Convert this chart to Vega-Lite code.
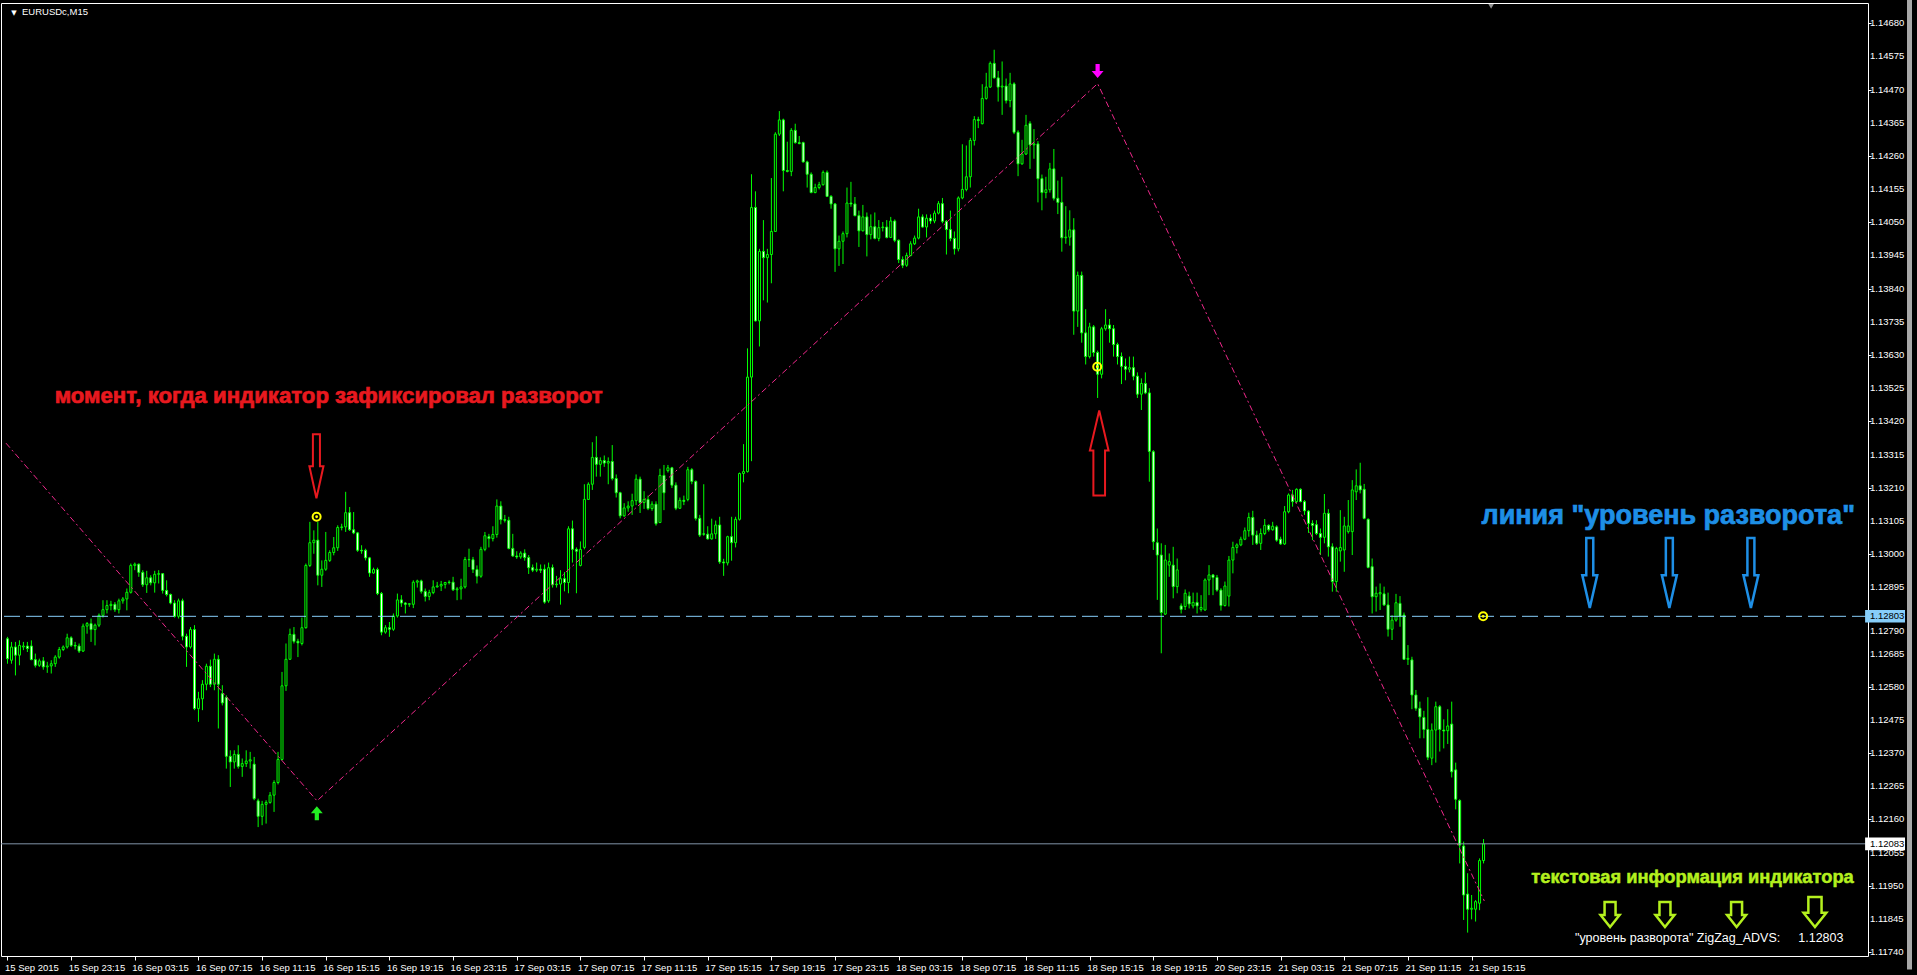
{
"$schema": "https://vega.github.io/schema/vega-lite/v6.json",
"width": 1867, "height": 953,
"autosize": {"type": "none"},
"padding": {"left": 1, "top": 3, "right": 49, "bottom": 19},
"background": "#000000",
"config": {"view": {"stroke": "#ffffff", "strokeWidth": 1, "fill": "#000000"},
 "axis": {"labelOverlap": false, "labelSeparation": 0}},
"datasets": {
"yticks": [
{"v":1.1174},{"v":1.11845},{"v":1.1195},{"v":1.12055},{"v":1.1216},{"v":1.12265},{"v":1.1237},{"v":1.12475},{"v":1.1258},{"v":1.12685},
{"v":1.12895},{"v":1.13},{"v":1.13105},{"v":1.1321},{"v":1.13315},{"v":1.1342},{"v":1.13525},{"v":1.1363},{"v":1.13735},
{"v":1.1384},{"v":1.13945},{"v":1.1405},{"v":1.14155},{"v":1.1426},{"v":1.14365},{"v":1.1447},{"v":1.14575},{"v":1.1468}
],
"candles": [
{"i":0,"o":1.12732,"h":1.12738,"l":1.12653,"c":1.12669},
{"i":1,"o":1.12664,"h":1.12722,"l":1.12653,"c":1.12706},
{"i":2,"o":1.12706,"h":1.12722,"l":1.12616,"c":1.12680},
{"i":3,"o":1.12680,"h":1.12727,"l":1.12648,"c":1.12711},
{"i":4,"o":1.12706,"h":1.12722,"l":1.12696,"c":1.12709},
{"i":5,"o":1.12709,"h":1.12722,"l":1.12690,"c":1.12701},
{"i":6,"o":1.12709,"h":1.12727,"l":1.12664,"c":1.12666},
{"i":7,"o":1.12666,"h":1.12685,"l":1.12641,"c":1.12648},
{"i":8,"o":1.12648,"h":1.12669,"l":1.12643,"c":1.12662},
{"i":9,"o":1.12662,"h":1.12674,"l":1.12634,"c":1.12643},
{"i":10,"o":1.12643,"h":1.12659,"l":1.12624,"c":1.12646},
{"i":11,"o":1.12646,"h":1.12664,"l":1.12622,"c":1.12653},
{"i":12,"o":1.12653,"h":1.12680,"l":1.12643,"c":1.12674},
{"i":13,"o":1.12674,"h":1.12706,"l":1.12669,"c":1.12698},
{"i":14,"o":1.12698,"h":1.12711,"l":1.12693,"c":1.12706},
{"i":15,"o":1.12706,"h":1.12748,"l":1.12701,"c":1.12735},
{"i":16,"o":1.12735,"h":1.12740,"l":1.12706,"c":1.12711},
{"i":17,"o":1.12711,"h":1.12722,"l":1.12698,"c":1.12709},
{"i":18,"o":1.12709,"h":1.12717,"l":1.12687,"c":1.12693},
{"i":19,"o":1.12693,"h":1.12780,"l":1.12690,"c":1.12772},
{"i":20,"o":1.12772,"h":1.12785,"l":1.12748,"c":1.12780},
{"i":21,"o":1.12780,"h":1.12796,"l":1.12722,"c":1.12761},
{"i":22,"o":1.12761,"h":1.12780,"l":1.12711,"c":1.12775},
{"i":23,"o":1.12775,"h":1.12812,"l":1.12769,"c":1.12806},
{"i":24,"o":1.12806,"h":1.12854,"l":1.12799,"c":1.12824},
{"i":25,"o":1.12824,"h":1.12854,"l":1.12812,"c":1.12837},
{"i":26,"o":1.12837,"h":1.12852,"l":1.12822,"c":1.12841},
{"i":27,"o":1.12841,"h":1.12848,"l":1.12817,"c":1.12824},
{"i":28,"o":1.12824,"h":1.12859,"l":1.12812,"c":1.12852},
{"i":29,"o":1.12852,"h":1.12864,"l":1.12843,"c":1.12858},
{"i":30,"o":1.12858,"h":1.12891,"l":1.12822,"c":1.12879},
{"i":31,"o":1.12879,"h":1.12970,"l":1.12875,"c":1.12964},
{"i":32,"o":1.12964,"h":1.12973,"l":1.12949,"c":1.12968},
{"i":33,"o":1.12968,"h":1.12970,"l":1.12928,"c":1.12942},
{"i":34,"o":1.12942,"h":1.12949,"l":1.12896,"c":1.12903},
{"i":35,"o":1.12903,"h":1.12947,"l":1.12877,"c":1.12925},
{"i":36,"o":1.12925,"h":1.12933,"l":1.12901,"c":1.12909},
{"i":37,"o":1.12909,"h":1.12947,"l":1.12878,"c":1.12936},
{"i":38,"o":1.12936,"h":1.12949,"l":1.12907,"c":1.12938},
{"i":39,"o":1.12938,"h":1.12940,"l":1.12875,"c":1.12885},
{"i":40,"o":1.12885,"h":1.12917,"l":1.12866,"c":1.12872},
{"i":41,"o":1.12872,"h":1.12875,"l":1.12841,"c":1.12845},
{"i":42,"o":1.12845,"h":1.12854,"l":1.12799,"c":1.12803},
{"i":43,"o":1.12803,"h":1.12859,"l":1.12796,"c":1.12852},
{"i":44,"o":1.12852,"h":1.12859,"l":1.12727,"c":1.12740},
{"i":45,"o":1.12740,"h":1.12748,"l":1.12643,"c":1.12706},
{"i":46,"o":1.12706,"h":1.12769,"l":1.12701,"c":1.12761},
{"i":47,"o":1.12761,"h":1.12775,"l":1.12506,"c":1.12511},
{"i":48,"o":1.12511,"h":1.12564,"l":1.12469,"c":1.12542},
{"i":49,"o":1.12542,"h":1.12601,"l":1.12506,"c":1.12588},
{"i":50,"o":1.12588,"h":1.12653,"l":1.12569,"c":1.12645},
{"i":51,"o":1.12645,"h":1.12666,"l":1.12579,"c":1.12588},
{"i":52,"o":1.12588,"h":1.12685,"l":1.12569,"c":1.12667},
{"i":53,"o":1.12667,"h":1.12680,"l":1.12448,"c":1.12588},
{"i":54,"o":1.12558,"h":1.12585,"l":1.12521,"c":1.12529},
{"i":55,"o":1.12546,"h":1.12553,"l":1.12321,"c":1.12360},
{"i":56,"o":1.12360,"h":1.12379,"l":1.12263,"c":1.12342},
{"i":57,"o":1.12342,"h":1.12379,"l":1.12321,"c":1.12366},
{"i":58,"o":1.12366,"h":1.12395,"l":1.12321,"c":1.12328},
{"i":59,"o":1.12328,"h":1.12353,"l":1.12295,"c":1.12337},
{"i":60,"o":1.12337,"h":1.12379,"l":1.12326,"c":1.12345},
{"i":61,"o":1.12345,"h":1.12374,"l":1.12321,"c":1.12349},
{"i":62,"o":1.12335,"h":1.12358,"l":1.12221,"c":1.12226},
{"i":63,"o":1.12219,"h":1.12226,"l":1.12136,"c":1.12170},
{"i":64,"o":1.12170,"h":1.12219,"l":1.12142,"c":1.12208},
{"i":65,"o":1.12208,"h":1.12221,"l":1.12147,"c":1.12214},
{"i":66,"o":1.12214,"h":1.12247,"l":1.12210,"c":1.12237},
{"i":67,"o":1.12237,"h":1.12284,"l":1.12184,"c":1.12277},
{"i":68,"o":1.12277,"h":1.12374,"l":1.12271,"c":1.12350},
{"i":69,"o":1.12350,"h":1.12627,"l":1.12347,"c":1.12583},
{"i":70,"o":1.12583,"h":1.12717,"l":1.12567,"c":1.12667},
{"i":71,"o":1.12667,"h":1.12764,"l":1.12666,"c":1.12746},
{"i":72,"o":1.12746,"h":1.12769,"l":1.12717,"c":1.12724},
{"i":73,"o":1.12724,"h":1.12732,"l":1.12674,"c":1.12719},
{"i":74,"o":1.12717,"h":1.12799,"l":1.12711,"c":1.12767},
{"i":75,"o":1.12767,"h":1.12970,"l":1.12764,"c":1.12964},
{"i":76,"o":1.12964,"h":1.13102,"l":1.12959,"c":1.13036},
{"i":77,"o":1.13036,"h":1.13075,"l":1.13001,"c":1.13044},
{"i":78,"o":1.13044,"h":1.13102,"l":1.12901,"c":1.12933},
{"i":79,"o":1.12933,"h":1.12980,"l":1.12896,"c":1.12952},
{"i":80,"o":1.12952,"h":1.13070,"l":1.12947,"c":1.12980},
{"i":81,"o":1.12980,"h":1.13012,"l":1.12975,"c":1.13005},
{"i":82,"o":1.13005,"h":1.13054,"l":1.12996,"c":1.13020},
{"i":83,"o":1.13020,"h":1.13091,"l":1.13010,"c":1.13084},
{"i":84,"o":1.13084,"h":1.13096,"l":1.13075,"c":1.13086},
{"i":85,"o":1.13086,"h":1.13197,"l":1.13070,"c":1.13131},
{"i":86,"o":1.13131,"h":1.13149,"l":1.13073,"c":1.13077},
{"i":87,"o":1.13077,"h":1.13133,"l":1.13063,"c":1.13067},
{"i":88,"o":1.13067,"h":1.13070,"l":1.13007,"c":1.13012},
{"i":89,"o":1.13012,"h":1.13028,"l":1.13001,"c":1.13010},
{"i":90,"o":1.13012,"h":1.13017,"l":1.12980,"c":1.12988},
{"i":91,"o":1.12988,"h":1.12991,"l":1.12928,"c":1.12940},
{"i":92,"o":1.12940,"h":1.12957,"l":1.12938,"c":1.12951},
{"i":93,"o":1.12951,"h":1.12957,"l":1.12870,"c":1.12875},
{"i":94,"o":1.12875,"h":1.12880,"l":1.12743,"c":1.12753},
{"i":95,"o":1.12753,"h":1.12775,"l":1.12748,"c":1.12767},
{"i":96,"o":1.12767,"h":1.12785,"l":1.12738,"c":1.12762},
{"i":97,"o":1.12762,"h":1.12812,"l":1.12757,"c":1.12804},
{"i":98,"o":1.12804,"h":1.12875,"l":1.12799,"c":1.12855},
{"i":99,"o":1.12855,"h":1.12870,"l":1.12833,"c":1.12845},
{"i":100,"o":1.12845,"h":1.12848,"l":1.12812,"c":1.12841},
{"i":101,"o":1.12841,"h":1.12845,"l":1.12833,"c":1.12843},
{"i":102,"o":1.12841,"h":1.12917,"l":1.12829,"c":1.12911},
{"i":103,"o":1.12911,"h":1.12919,"l":1.12894,"c":1.12915},
{"i":104,"o":1.12915,"h":1.12919,"l":1.12875,"c":1.12882},
{"i":105,"o":1.12882,"h":1.12891,"l":1.12850,"c":1.12866},
{"i":106,"o":1.12866,"h":1.12887,"l":1.12854,"c":1.12878},
{"i":107,"o":1.12878,"h":1.12917,"l":1.12873,"c":1.12896},
{"i":108,"o":1.12896,"h":1.12912,"l":1.12894,"c":1.12899},
{"i":109,"o":1.12899,"h":1.12915,"l":1.12883,"c":1.12904},
{"i":110,"o":1.12904,"h":1.12912,"l":1.12891,"c":1.12910},
{"i":111,"o":1.12910,"h":1.12917,"l":1.12904,"c":1.12911},
{"i":112,"o":1.12911,"h":1.12928,"l":1.12883,"c":1.12887},
{"i":113,"o":1.12887,"h":1.12896,"l":1.12854,"c":1.12890},
{"i":114,"o":1.12890,"h":1.12922,"l":1.12856,"c":1.12896},
{"i":115,"o":1.12896,"h":1.12991,"l":1.12891,"c":1.12983},
{"i":116,"o":1.12983,"h":1.13017,"l":1.12959,"c":1.12982},
{"i":117,"o":1.12982,"h":1.12991,"l":1.12940,"c":1.12951},
{"i":118,"o":1.12951,"h":1.12964,"l":1.12907,"c":1.12930},
{"i":119,"o":1.12930,"h":1.13023,"l":1.12925,"c":1.13015},
{"i":120,"o":1.13015,"h":1.13070,"l":1.13009,"c":1.13058},
{"i":121,"o":1.13055,"h":1.13064,"l":1.13021,"c":1.13049},
{"i":122,"o":1.13049,"h":1.13088,"l":1.13040,"c":1.13062},
{"i":123,"o":1.13062,"h":1.13173,"l":1.13052,"c":1.13152},
{"i":124,"o":1.13152,"h":1.13167,"l":1.13094,"c":1.13109},
{"i":125,"o":1.13109,"h":1.13124,"l":1.13100,"c":1.13107},
{"i":126,"o":1.13107,"h":1.13118,"l":1.13015,"c":1.13018},
{"i":127,"o":1.13018,"h":1.13064,"l":1.12991,"c":1.12994},
{"i":128,"o":1.12994,"h":1.13009,"l":1.12985,"c":1.12991},
{"i":129,"o":1.12991,"h":1.13009,"l":1.12985,"c":1.13003},
{"i":130,"o":1.13003,"h":1.13015,"l":1.12979,"c":1.12989},
{"i":131,"o":1.12989,"h":1.12997,"l":1.12937,"c":1.12957},
{"i":132,"o":1.12957,"h":1.12967,"l":1.12943,"c":1.12949},
{"i":133,"o":1.12949,"h":1.12973,"l":1.12943,"c":1.12952},
{"i":134,"o":1.12952,"h":1.12967,"l":1.12940,"c":1.12949},
{"i":135,"o":1.12952,"h":1.12967,"l":1.12843,"c":1.12848},
{"i":136,"o":1.12852,"h":1.12973,"l":1.12846,"c":1.12957},
{"i":137,"o":1.12957,"h":1.12967,"l":1.12894,"c":1.12903},
{"i":138,"o":1.12903,"h":1.12931,"l":1.12894,"c":1.12905},
{"i":139,"o":1.12905,"h":1.12949,"l":1.12840,"c":1.12922},
{"i":140,"o":1.12922,"h":1.12943,"l":1.12882,"c":1.12910},
{"i":141,"o":1.12910,"h":1.13088,"l":1.12876,"c":1.13080},
{"i":142,"o":1.13080,"h":1.13106,"l":1.12973,"c":1.13015},
{"i":143,"o":1.13015,"h":1.13021,"l":1.12876,"c":1.13009},
{"i":144,"o":1.12964,"h":1.13040,"l":1.12961,"c":1.13015},
{"i":145,"o":1.13021,"h":1.13221,"l":1.13015,"c":1.13173},
{"i":146,"o":1.13173,"h":1.13227,"l":1.13173,"c":1.13221},
{"i":147,"o":1.13221,"h":1.13354,"l":1.13203,"c":1.13306},
{"i":148,"o":1.13306,"h":1.13373,"l":1.13245,"c":1.13284},
{"i":149,"o":1.13284,"h":1.13306,"l":1.13245,"c":1.13296},
{"i":150,"o":1.13296,"h":1.13312,"l":1.13276,"c":1.13288},
{"i":151,"o":1.13288,"h":1.13306,"l":1.13221,"c":1.13293},
{"i":152,"o":1.13293,"h":1.13345,"l":1.13233,"c":1.13239},
{"i":153,"o":1.13239,"h":1.13252,"l":1.13179,"c":1.13194},
{"i":154,"o":1.13194,"h":1.13197,"l":1.13113,"c":1.13121},
{"i":155,"o":1.13121,"h":1.13161,"l":1.13118,"c":1.13146},
{"i":156,"o":1.13146,"h":1.13167,"l":1.13134,"c":1.13152},
{"i":157,"o":1.13152,"h":1.13191,"l":1.13124,"c":1.13169},
{"i":158,"o":1.13169,"h":1.13252,"l":1.13155,"c":1.13237},
{"i":159,"o":1.13237,"h":1.13245,"l":1.13130,"c":1.13163},
{"i":160,"o":1.13163,"h":1.13199,"l":1.13143,"c":1.13173},
{"i":161,"o":1.13173,"h":1.13185,"l":1.13139,"c":1.13144},
{"i":162,"o":1.13144,"h":1.13167,"l":1.13137,"c":1.13158},
{"i":163,"o":1.13158,"h":1.13167,"l":1.13090,"c":1.13096},
{"i":164,"o":1.13100,"h":1.13270,"l":1.13098,"c":1.13249},
{"i":165,"o":1.13249,"h":1.13282,"l":1.13139,"c":1.13194},
{"i":166,"o":1.13264,"h":1.13282,"l":1.13258,"c":1.13273},
{"i":167,"o":1.13273,"h":1.13276,"l":1.13209,"c":1.13218},
{"i":168,"o":1.13218,"h":1.13227,"l":1.13139,"c":1.13145},
{"i":169,"o":1.13145,"h":1.13179,"l":1.13143,"c":1.13170},
{"i":170,"o":1.13170,"h":1.13185,"l":1.13155,"c":1.13167},
{"i":171,"o":1.13173,"h":1.13276,"l":1.13167,"c":1.13267},
{"i":172,"o":1.13267,"h":1.13272,"l":1.13221,"c":1.13230},
{"i":173,"o":1.13230,"h":1.13233,"l":1.13106,"c":1.13113},
{"i":174,"o":1.13113,"h":1.13124,"l":1.13054,"c":1.13060},
{"i":175,"o":1.13064,"h":1.13221,"l":1.13058,"c":1.13063},
{"i":176,"o":1.13063,"h":1.13088,"l":1.13046,"c":1.13048},
{"i":177,"o":1.13048,"h":1.13112,"l":1.13046,"c":1.13064},
{"i":178,"o":1.13064,"h":1.13106,"l":1.13048,"c":1.13092},
{"i":179,"o":1.13092,"h":1.13118,"l":1.12969,"c":1.12975},
{"i":180,"o":1.12975,"h":1.12985,"l":1.12931,"c":1.12972},
{"i":181,"o":1.12972,"h":1.13058,"l":1.12964,"c":1.13055},
{"i":182,"o":1.13055,"h":1.13118,"l":1.12979,"c":1.13036},
{"i":183,"o":1.13036,"h":1.13118,"l":1.13021,"c":1.13110},
{"i":184,"o":1.13110,"h":1.13258,"l":1.13106,"c":1.13255},
{"i":185,"o":1.13255,"h":1.13348,"l":1.13227,"c":1.13261},
{"i":186,"o":1.13261,"h":1.13651,"l":1.13258,"c":1.13560},
{"i":187,"o":1.13560,"h":1.14202,"l":1.13294,"c":1.14097},
{"i":188,"o":1.14097,"h":1.14148,"l":1.13736,"c":1.13738},
{"i":189,"o":1.13738,"h":1.13966,"l":1.13657,"c":1.13958},
{"i":190,"o":1.13958,"h":1.14057,"l":1.13803,"c":1.13938},
{"i":191,"o":1.13938,"h":1.13966,"l":1.13796,"c":1.13948},
{"i":192,"o":1.13948,"h":1.14190,"l":1.13857,"c":1.14021},
{"i":193,"o":1.14021,"h":1.14335,"l":1.14021,"c":1.14329},
{"i":194,"o":1.14329,"h":1.14402,"l":1.14323,"c":1.14374},
{"i":195,"o":1.14374,"h":1.14378,"l":1.14148,"c":1.14214},
{"i":196,"o":1.14214,"h":1.14305,"l":1.14208,"c":1.14211},
{"i":197,"o":1.14211,"h":1.14348,"l":1.14196,"c":1.14341},
{"i":198,"o":1.14341,"h":1.14362,"l":1.14299,"c":1.14302},
{"i":199,"o":1.14302,"h":1.14323,"l":1.14297,"c":1.14299},
{"i":200,"o":1.14302,"h":1.14305,"l":1.14239,"c":1.14241},
{"i":201,"o":1.14241,"h":1.14245,"l":1.14160,"c":1.14202},
{"i":202,"o":1.14202,"h":1.14208,"l":1.14142,"c":1.14144},
{"i":203,"o":1.14144,"h":1.14172,"l":1.14142,"c":1.14160},
{"i":204,"o":1.14160,"h":1.14178,"l":1.14154,"c":1.14169},
{"i":205,"o":1.14169,"h":1.14214,"l":1.14166,"c":1.14208},
{"i":206,"o":1.14208,"h":1.14214,"l":1.14130,"c":1.14132},
{"i":207,"o":1.14132,"h":1.14136,"l":1.14093,"c":1.14108},
{"i":208,"o":1.14108,"h":1.14111,"l":1.13893,"c":1.13966},
{"i":209,"o":1.13966,"h":1.14008,"l":1.13912,"c":1.13990},
{"i":210,"o":1.13990,"h":1.14021,"l":1.13918,"c":1.14014},
{"i":211,"o":1.14014,"h":1.14160,"l":1.14002,"c":1.14111},
{"i":212,"o":1.14111,"h":1.14178,"l":1.14099,"c":1.14108},
{"i":213,"o":1.14108,"h":1.14130,"l":1.14069,"c":1.14071},
{"i":214,"o":1.14071,"h":1.14087,"l":1.13972,"c":1.14023},
{"i":215,"o":1.14023,"h":1.14105,"l":1.14021,"c":1.14067},
{"i":216,"o":1.14067,"h":1.14081,"l":1.13942,"c":1.14011},
{"i":217,"o":1.14011,"h":1.14075,"l":1.13996,"c":1.14036},
{"i":218,"o":1.14036,"h":1.14081,"l":1.13996,"c":1.13999},
{"i":219,"o":1.13999,"h":1.14057,"l":1.13990,"c":1.14033},
{"i":220,"o":1.14033,"h":1.14051,"l":1.14021,"c":1.14035},
{"i":221,"o":1.14035,"h":1.14057,"l":1.13999,"c":1.14002},
{"i":222,"o":1.14002,"h":1.14067,"l":1.14002,"c":1.14054},
{"i":223,"o":1.14054,"h":1.14059,"l":1.13987,"c":1.13993},
{"i":224,"o":1.13993,"h":1.13996,"l":1.13921,"c":1.13932},
{"i":225,"o":1.13932,"h":1.13942,"l":1.13905,"c":1.13914},
{"i":226,"o":1.13914,"h":1.13954,"l":1.13909,"c":1.13945},
{"i":227,"o":1.13945,"h":1.13990,"l":1.13942,"c":1.13982},
{"i":228,"o":1.13982,"h":1.14008,"l":1.13978,"c":1.14000},
{"i":229,"o":1.14000,"h":1.14093,"l":1.13996,"c":1.14067},
{"i":230,"o":1.14067,"h":1.14075,"l":1.14033,"c":1.14035},
{"i":231,"o":1.14035,"h":1.14075,"l":1.14002,"c":1.14063},
{"i":232,"o":1.14063,"h":1.14075,"l":1.14045,"c":1.14054},
{"i":233,"o":1.14054,"h":1.14087,"l":1.14047,"c":1.14079},
{"i":234,"o":1.14079,"h":1.14117,"l":1.14075,"c":1.14109},
{"i":235,"o":1.14109,"h":1.14127,"l":1.14047,"c":1.14053},
{"i":236,"o":1.14053,"h":1.14057,"l":1.13948,"c":1.14027},
{"i":237,"o":1.14027,"h":1.14087,"l":1.13990,"c":1.13999},
{"i":238,"o":1.13999,"h":1.14021,"l":1.13948,"c":1.13966},
{"i":239,"o":1.13966,"h":1.14132,"l":1.13958,"c":1.14127},
{"i":240,"o":1.14127,"h":1.14297,"l":1.14123,"c":1.14154},
{"i":241,"o":1.14154,"h":1.14293,"l":1.14148,"c":1.14194},
{"i":242,"o":1.14194,"h":1.14317,"l":1.14160,"c":1.14309},
{"i":243,"o":1.14309,"h":1.14386,"l":1.14293,"c":1.14375},
{"i":244,"o":1.14375,"h":1.14384,"l":1.14348,"c":1.14372},
{"i":245,"o":1.14362,"h":1.14487,"l":1.14360,"c":1.14442},
{"i":246,"o":1.14442,"h":1.14523,"l":1.14438,"c":1.14478},
{"i":247,"o":1.14478,"h":1.14559,"l":1.14475,"c":1.14553},
{"i":248,"o":1.14553,"h":1.14596,"l":1.14505,"c":1.14507},
{"i":249,"o":1.14507,"h":1.14529,"l":1.14432,"c":1.14478},
{"i":250,"o":1.14478,"h":1.14559,"l":1.14390,"c":1.14481},
{"i":251,"o":1.14481,"h":1.14505,"l":1.14426,"c":1.14435},
{"i":252,"o":1.14435,"h":1.14523,"l":1.14414,"c":1.14488},
{"i":253,"o":1.14488,"h":1.14493,"l":1.14329,"c":1.14335},
{"i":254,"o":1.14335,"h":1.14341,"l":1.14196,"c":1.14235},
{"i":255,"o":1.14235,"h":1.14311,"l":1.14232,"c":1.14266},
{"i":256,"o":1.14266,"h":1.14390,"l":1.14263,"c":1.14357},
{"i":257,"o":1.14363,"h":1.14370,"l":1.14219,"c":1.14295},
{"i":258,"o":1.14295,"h":1.14345,"l":1.14251,"c":1.14298},
{"i":259,"o":1.14298,"h":1.14307,"l":1.14113,"c":1.14188},
{"i":260,"o":1.14188,"h":1.14201,"l":1.14088,"c":1.14144},
{"i":261,"o":1.14144,"h":1.14194,"l":1.14126,"c":1.14153},
{"i":262,"o":1.14153,"h":1.14238,"l":1.14144,"c":1.14219},
{"i":263,"o":1.14219,"h":1.14282,"l":1.14119,"c":1.14126},
{"i":264,"o":1.14126,"h":1.14182,"l":1.14076,"c":1.14113},
{"i":265,"o":1.14113,"h":1.14194,"l":1.13957,"c":1.14001},
{"i":266,"o":1.14001,"h":1.14101,"l":1.13982,"c":1.14003},
{"i":267,"o":1.14003,"h":1.14088,"l":1.13976,"c":1.14026},
{"i":268,"o":1.14026,"h":1.14063,"l":1.13694,"c":1.13769},
{"i":269,"o":1.13769,"h":1.13894,"l":1.13719,"c":1.13882},
{"i":270,"o":1.13882,"h":1.13894,"l":1.13669,"c":1.13700},
{"i":271,"o":1.13700,"h":1.13775,"l":1.13600,"c":1.13625},
{"i":272,"o":1.13625,"h":1.13732,"l":1.13619,"c":1.13719},
{"i":273,"o":1.13719,"h":1.13725,"l":1.13625,"c":1.13638},
{"i":274,"o":1.13638,"h":1.13644,"l":1.13494,"c":1.13569},
{"i":275,"o":1.13569,"h":1.13719,"l":1.13556,"c":1.13713},
{"i":276,"o":1.13713,"h":1.13775,"l":1.13707,"c":1.13725},
{"i":277,"o":1.13725,"h":1.13744,"l":1.13669,"c":1.13713},
{"i":278,"o":1.13713,"h":1.13725,"l":1.13625,"c":1.13663},
{"i":279,"o":1.13663,"h":1.13669,"l":1.13600,"c":1.13625},
{"i":280,"o":1.13625,"h":1.13638,"l":1.13538,"c":1.13594},
{"i":281,"o":1.13594,"h":1.13619,"l":1.13550,"c":1.13585},
{"i":282,"o":1.13585,"h":1.13625,"l":1.13575,"c":1.13590},
{"i":283,"o":1.13590,"h":1.13625,"l":1.13550,"c":1.13563},
{"i":284,"o":1.13563,"h":1.13575,"l":1.13494,"c":1.13506},
{"i":285,"o":1.13506,"h":1.13556,"l":1.13456,"c":1.13540},
{"i":286,"o":1.13540,"h":1.13575,"l":1.13506,"c":1.13510},
{"i":287,"o":1.13510,"h":1.13525,"l":1.13229,"c":1.13325},
{"i":288,"o":1.13324,"h":1.13329,"l":1.13013,"c":1.13039},
{"i":289,"o":1.13036,"h":1.13081,"l":1.12855,"c":1.12997},
{"i":290,"o":1.12997,"h":1.13034,"l":1.12686,"c":1.12815},
{"i":291,"o":1.12810,"h":1.13029,"l":1.12807,"c":1.12981},
{"i":292,"o":1.12965,"h":1.13002,"l":1.12928,"c":1.12976},
{"i":293,"o":1.12965,"h":1.13023,"l":1.12860,"c":1.12897},
{"i":294,"o":1.12897,"h":1.12986,"l":1.12876,"c":1.12950},
{"i":295,"o":1.12836,"h":1.12844,"l":1.12812,"c":1.12825},
{"i":296,"o":1.12834,"h":1.12888,"l":1.12823,"c":1.12876},
{"i":297,"o":1.12867,"h":1.12881,"l":1.12828,"c":1.12842},
{"i":298,"o":1.12836,"h":1.12878,"l":1.12828,"c":1.12847},
{"i":299,"o":1.12847,"h":1.12878,"l":1.12812,"c":1.12836},
{"i":300,"o":1.12825,"h":1.12870,"l":1.12818,"c":1.12831},
{"i":301,"o":1.12823,"h":1.12923,"l":1.12821,"c":1.12918},
{"i":302,"o":1.12918,"h":1.12965,"l":1.12870,"c":1.12934},
{"i":303,"o":1.12934,"h":1.12937,"l":1.12870,"c":1.12926},
{"i":304,"o":1.12926,"h":1.12934,"l":1.12881,"c":1.12886},
{"i":305,"o":1.12886,"h":1.12892,"l":1.12821,"c":1.12837},
{"i":306,"o":1.12837,"h":1.12913,"l":1.12834,"c":1.12899},
{"i":307,"o":1.12867,"h":1.12994,"l":1.12834,"c":1.12981},
{"i":308,"o":1.12981,"h":1.13039,"l":1.12939,"c":1.13021},
{"i":309,"o":1.13021,"h":1.13034,"l":1.13002,"c":1.13029},
{"i":310,"o":1.13029,"h":1.13055,"l":1.13025,"c":1.13047},
{"i":311,"o":1.13047,"h":1.13084,"l":1.13044,"c":1.13074},
{"i":312,"o":1.13074,"h":1.13131,"l":1.13055,"c":1.13116},
{"i":313,"o":1.13116,"h":1.13137,"l":1.13029,"c":1.13060},
{"i":314,"o":1.13060,"h":1.13074,"l":1.13029,"c":1.13034},
{"i":315,"o":1.13034,"h":1.13081,"l":1.13013,"c":1.13065},
{"i":316,"o":1.13065,"h":1.13111,"l":1.13060,"c":1.13091},
{"i":317,"o":1.13091,"h":1.13094,"l":1.13071,"c":1.13077},
{"i":318,"o":1.13077,"h":1.13102,"l":1.13074,"c":1.13088},
{"i":319,"o":1.13086,"h":1.13091,"l":1.13039,"c":1.13044},
{"i":320,"o":1.13047,"h":1.13055,"l":1.13029,"c":1.13032},
{"i":321,"o":1.13032,"h":1.13152,"l":1.13029,"c":1.13134},
{"i":322,"o":1.13134,"h":1.13192,"l":1.13129,"c":1.13187},
{"i":323,"o":1.13187,"h":1.13203,"l":1.13150,"c":1.13166},
{"i":324,"o":1.13166,"h":1.13208,"l":1.13161,"c":1.13205},
{"i":325,"o":1.13205,"h":1.13208,"l":1.13164,"c":1.13166},
{"i":326,"o":1.13166,"h":1.13171,"l":1.13124,"c":1.13137},
{"i":327,"o":1.13136,"h":1.13139,"l":1.13067,"c":1.13097},
{"i":328,"o":1.13097,"h":1.13107,"l":1.13044,"c":1.13091},
{"i":329,"o":1.13093,"h":1.13107,"l":1.13060,"c":1.13065},
{"i":330,"o":1.13065,"h":1.13081,"l":1.12997,"c":1.13053},
{"i":331,"o":1.13053,"h":1.13190,"l":1.13034,"c":1.13129},
{"i":332,"o":1.13129,"h":1.13142,"l":1.12992,"c":1.13023},
{"i":333,"o":1.13023,"h":1.13034,"l":1.12881,"c":1.12913},
{"i":334,"o":1.12913,"h":1.13023,"l":1.12881,"c":1.13018},
{"i":335,"o":1.13010,"h":1.13139,"l":1.12976,"c":1.13021},
{"i":336,"o":1.13013,"h":1.13118,"l":1.12944,"c":1.13089},
{"i":337,"o":1.13071,"h":1.13171,"l":1.13065,"c":1.13089},
{"i":338,"o":1.13071,"h":1.13234,"l":1.12997,"c":1.13203},
{"i":339,"o":1.13197,"h":1.13268,"l":1.13171,"c":1.13216},
{"i":340,"o":1.13216,"h":1.13289,"l":1.13192,"c":1.13203},
{"i":341,"o":1.13205,"h":1.13222,"l":1.13110,"c":1.13113},
{"i":342,"o":1.13110,"h":1.13113,"l":1.12955,"c":1.12958},
{"i":343,"o":1.12960,"h":1.12986,"l":1.12812,"c":1.12865},
{"i":344,"o":1.12865,"h":1.12897,"l":1.12818,"c":1.12876},
{"i":345,"o":1.12874,"h":1.12907,"l":1.12823,"c":1.12878},
{"i":346,"o":1.12874,"h":1.12897,"l":1.12836,"c":1.12839},
{"i":347,"o":1.12839,"h":1.12878,"l":1.12739,"c":1.12762},
{"i":348,"o":1.12762,"h":1.12807,"l":1.12728,"c":1.12791},
{"i":349,"o":1.12791,"h":1.12874,"l":1.12786,"c":1.12846},
{"i":350,"o":1.12844,"h":1.12867,"l":1.12770,"c":1.12802},
{"i":351,"o":1.12807,"h":1.12815,"l":1.12665,"c":1.12667},
{"i":352,"o":1.12667,"h":1.12712,"l":1.12649,"c":1.12670},
{"i":353,"o":1.12665,"h":1.12675,"l":1.12509,"c":1.12554},
{"i":354,"o":1.12554,"h":1.12570,"l":1.12504,"c":1.12512},
{"i":355,"o":1.12512,"h":1.12533,"l":1.12417,"c":1.12485},
{"i":356,"o":1.12483,"h":1.12504,"l":1.12417,"c":1.12445},
{"i":357,"o":1.12445,"h":1.12547,"l":1.12348,"c":1.12357},
{"i":358,"o":1.12354,"h":1.12464,"l":1.12332,"c":1.12443},
{"i":359,"o":1.12443,"h":1.12533,"l":1.12340,"c":1.12517},
{"i":360,"o":1.12517,"h":1.12522,"l":1.12375,"c":1.12445},
{"i":361,"o":1.12443,"h":1.12477,"l":1.12385,"c":1.12440},
{"i":362,"o":1.12441,"h":1.12509,"l":1.12399,"c":1.12456},
{"i":363,"o":1.12462,"h":1.12533,"l":1.12293,"c":1.12311},
{"i":364,"o":1.12317,"h":1.12340,"l":1.12192,"c":1.12224},
{"i":365,"o":1.12220,"h":1.12224,"l":1.12021,"c":1.12079},
{"i":366,"o":1.12076,"h":1.12090,"l":1.11842,"c":1.11921},
{"i":367,"o":1.11924,"h":1.11990,"l":1.11802,"c":1.11876},
{"i":368,"o":1.11876,"h":1.11921,"l":1.11844,"c":1.11879},
{"i":369,"o":1.11876,"h":1.11905,"l":1.11837,"c":1.11900},
{"i":370,"o":1.11895,"h":1.12037,"l":1.11873,"c":1.12030},
{"i":371,"o":1.12030,"h":1.12098,"l":1.12021,"c":1.12083}
],
"zigzag": [
{"i":-0.375,"p":1.13351},
{"i":77.8,"p":1.12219},
{"i":274,"p":1.14489},
{"i":371.2,"p":1.11902}
],
"circles": [
{"i":77.7,"p":1.13118},
{"i":273.9,"p":1.13593},
{"i":370.9,"p":1.12803}
]
},
"layer": [
{"data": {"name": "candles"},
 "mark": {"type": "rule", "color": "#00ff00", "strokeWidth": 1},
 "encoding": {
  "x": {"field": "i", "type": "quantitative", "scale": {"domain": [-0.375, 466.375], "nice": false, "zero": false},
   "axis": {"title": null, "values": [0,16,32,48,64,80,96,112,128,144,160,176,192,208,224,240,256,272,288,304,320,336,352,368],
    "labelExpr": "['15 Sep 2015','15 Sep 23:15','16 Sep 03:15','16 Sep 07:15','16 Sep 11:15','16 Sep 15:15','16 Sep 19:15','16 Sep 23:15','17 Sep 03:15','17 Sep 07:15','17 Sep 11:15','17 Sep 15:15','17 Sep 19:15','17 Sep 23:15','18 Sep 03:15','18 Sep 07:15','18 Sep 11:15','18 Sep 15:15','18 Sep 19:15','20 Sep 23:15','21 Sep 03:15','21 Sep 07:15','21 Sep 11:15','21 Sep 15:15'][round(datum.value/16)]",
    "domain": false, "grid": false, "tickColor": "#ffffff", "tickSize": 4, "labelColor": "#ffffff", "labelFont": "Liberation Sans", "labelFontSize": 9.5,
    "labelAlign": "left", "labelBaseline": "top", "labelPadding": 2, "labelOffset": -3, "labelFlush": false, "labelOverlap": false, "labelBound": false}},
  "y": {"field": "l", "type": "quantitative", "scale": {"domain": [1.11728, 1.14744], "nice": false, "zero": false},
   "axis": {"title": null, "orient": "right", "values": [1.1174,1.11845,1.1195,1.12055,1.1216,1.12265,1.1237,1.12475,1.1258,1.12685,1.1279,1.12895,1.13,1.13105,1.1321,1.13315,1.1342,1.13525,1.1363,1.13735,1.1384,1.13945,1.1405,1.14155,1.1426,1.14365,1.1447,1.14575,1.1468],
    "labels": false, "domain": false, "grid": false, "tickColor": "#ffffff", "tickSize": 3}},
  "y2": {"field": "h"}
 }},
{"data": {"name": "candles"},
 "mark": {"type": "bar", "size": 2, "stroke": "#00ff00", "strokeWidth": 1},
 "encoding": {
  "x": {"field": "i", "type": "quantitative", "scale": {"domain": [-0.375, 466.375], "nice": false, "zero": false}},
  "y": {"field": "o", "type": "quantitative", "scale": {"domain": [1.11728, 1.14744], "nice": false, "zero": false}},
  "y2": {"field": "c"},
  "fill": {"condition": {"test": "datum.c < datum.o", "value": "#ffffff"}, "value": "#000000"}
 }},
{"data": {"name": "yticks"},
 "mark": {"type": "text", "align": "left", "baseline": "middle", "dx": 7, "font": "Liberation Sans", "fontSize": 9.5, "fill": "#ffffff"},
 "encoding": {
  "x": {"datum": 466.375, "type": "quantitative", "scale": {"domain": [-0.375, 466.375], "nice": false, "zero": false}},
  "y": {"field": "v", "type": "quantitative", "scale": {"domain": [1.11728, 1.14744], "nice": false, "zero": false}},
  "text": {"field": "v", "format": ".5f"}
 }},
{"data": {"values": [{"v": 1.1279}]},
 "mark": {"type": "text", "align": "left", "baseline": "middle", "dx": 7, "dy": 11, "font": "Liberation Sans", "fontSize": 9.5, "fill": "#ffffff"},
 "encoding": {
  "x": {"datum": 466.375, "type": "quantitative", "scale": {"domain": [-0.375, 466.375], "nice": false, "zero": false}},
  "y": {"field": "v", "type": "quantitative", "scale": {"domain": [1.11728, 1.14744], "nice": false, "zero": false}},
  "text": {"field": "v", "format": ".5f"}
 }},
{"data": {"values": [{"p": 1.13236}]},
 "mark": {"type": "point", "shape": "M0.0898,-1L0.1,-1L0.1,1L0.0898,1Z", "size": 960400, "filled": true, "fill": "#a8a8a8", "opacity": 1, "strokeWidth": 0},
 "encoding": {
  "x": {"datum": 466.375, "type": "quantitative", "scale": {"domain": [-0.375, 466.375], "nice": false, "zero": false}},
  "y": {"field": "p", "type": "quantitative", "scale": {"domain": [1.11728, 1.14744], "nice": false, "zero": false}}
 }},
{"data": {"values": [{"i": 372.9, "p": 1.14733}]},
 "mark": {"type": "point", "shape": "triangle-down", "size": 30, "filled": true, "fill": "#909090", "opacity": 1, "strokeWidth": 0},
 "encoding": {
  "x": {"field": "i", "type": "quantitative", "scale": {"domain": [-0.375, 466.375], "nice": false, "zero": false}},
  "y": {"field": "p", "type": "quantitative", "scale": {"domain": [1.11728, 1.14744], "nice": false, "zero": false}}
 }},
{"data": {"values": [{"p": 1.12803}]},
 "mark": {"type": "rule", "color": "#87cefa", "strokeWidth": 1, "strokeDash": [16, 6]},
 "encoding": {"y": {"field": "p", "type": "quantitative", "scale": {"domain": [1.11728, 1.14744], "nice": false, "zero": false}}}},
{"data": {"values": [{"p": 1.12083}]},
 "mark": {"type": "rule", "color": "#8094a8", "strokeWidth": 1},
 "encoding": {"y": {"field": "p", "type": "quantitative", "scale": {"domain": [1.11728, 1.14744], "nice": false, "zero": false}}}},
{"data": {"name": "zigzag"},
 "mark": {"type": "line", "color": "#f0288c", "strokeWidth": 1, "strokeDash": [6, 3, 2, 3]},
 "encoding": {
  "x": {"field": "i", "type": "quantitative", "scale": {"domain": [-0.375, 466.375], "nice": false, "zero": false}},
  "y": {"field": "p", "type": "quantitative", "scale": {"domain": [1.11728, 1.14744], "nice": false, "zero": false}}
 }},
{"data": {"name": "circles"},
 "mark": {"type": "point", "shape": "circle", "size": 64, "filled": false, "stroke": "#ffff00", "strokeWidth": 2, "opacity": 1},
 "encoding": {
  "x": {"field": "i", "type": "quantitative", "scale": {"domain": [-0.375, 466.375], "nice": false, "zero": false}},
  "y": {"field": "p", "type": "quantitative", "scale": {"domain": [1.11728, 1.14744], "nice": false, "zero": false}}
 }},
{"data": {"name": "circles"},
 "mark": {"type": "point", "shape": "circle", "size": 8, "filled": true, "fill": "#ffff00", "opacity": 1},
 "encoding": {
  "x": {"field": "i", "type": "quantitative", "scale": {"domain": [-0.375, 466.375], "nice": false, "zero": false}},
  "y": {"field": "p", "type": "quantitative", "scale": {"domain": [1.11728, 1.14744], "nice": false, "zero": false}}
 }},
{"data": {"values": [{"i": 77.75, "p": 1.12180}]},
 "mark": {"type": "point", "shape": "M0,-1L0.85,0L0.3,0L0.3,1L-0.3,1L-0.3,0L-0.85,0Z", "size": 196, "filled": true, "fill": "#22ee22", "opacity": 1},
 "encoding": {
  "x": {"field": "i", "type": "quantitative", "scale": {"domain": [-0.375, 466.375], "nice": false, "zero": false}},
  "y": {"field": "p", "type": "quantitative", "scale": {"domain": [1.11728, 1.14744], "nice": false, "zero": false}}
 }},
{"data": {"values": [{"i": 274, "p": 1.14529}]},
 "mark": {"type": "point", "shape": "M0,1L0.85,0L0.3,0L0.3,-1L-0.3,-1L-0.3,0L-0.85,0Z", "size": 196, "filled": true, "fill": "#ff00ff", "opacity": 1},
 "encoding": {
  "x": {"field": "i", "type": "quantitative", "scale": {"domain": [-0.375, 466.375], "nice": false, "zero": false}},
  "y": {"field": "p", "type": "quantitative", "scale": {"domain": [1.11728, 1.14744], "nice": false, "zero": false}}
 }},
{"data": {"values": [{"i": 77.65, "p": 1.13278}]},
 "mark": {"type": "point", "shape": "M-0.11,-1L0.11,-1L0.11,0L0.22,0L0,1L-0.22,0L-0.11,0Z", "size": 4096, "filled": false, "stroke": "#e8191f", "strokeWidth": 2, "opacity": 1},
 "encoding": {
  "x": {"field": "i", "type": "quantitative", "scale": {"domain": [-0.375, 466.375], "nice": false, "zero": false}},
  "y": {"field": "p", "type": "quantitative", "scale": {"domain": [1.11728, 1.14744], "nice": false, "zero": false}}
 }},
{"data": {"values": [{"i": 274.4, "p": 1.13320}]},
 "mark": {"type": "point", "shape": "M0,-1L0.22,-0.06L0.137,-0.06L0.137,1L-0.137,1L-0.137,-0.06L-0.22,-0.06Z", "size": 7225, "filled": false, "stroke": "#e8191f", "strokeWidth": 2, "opacity": 1},
 "encoding": {
  "x": {"field": "i", "type": "quantitative", "scale": {"domain": [-0.375, 466.375], "nice": false, "zero": false}},
  "y": {"field": "p", "type": "quantitative", "scale": {"domain": [1.11728, 1.14744], "nice": false, "zero": false}}
 }},
{"data": {"values": [{"i": 397.7, "p": 1.12940}, {"i": 417.7, "p": 1.12940}, {"i": 438.2, "p": 1.12940}]},
 "mark": {"type": "point", "shape": "M-0.1,-1L0.1,-1L0.1,0.06L0.214,0.06L0,1L-0.214,0.06L-0.1,0.06Z", "size": 4900, "filled": false, "stroke": "#1e8fe6", "strokeWidth": 2.5, "opacity": 1},
 "encoding": {
  "x": {"field": "i", "type": "quantitative", "scale": {"domain": [-0.375, 466.375], "nice": false, "zero": false}},
  "y": {"field": "p", "type": "quantitative", "scale": {"domain": [1.11728, 1.14744], "nice": false, "zero": false}}
 }},
{"data": {"values": [{"i": 402.8, "p": 1.11859}, {"i": 416.6, "p": 1.11859}, {"i": 434.6, "p": 1.11859}]},
 "mark": {"type": "point", "shape": "M-0.44,-1L0.44,-1L0.44,0.04L0.76,0.04L0,1L-0.76,0.04L-0.44,0.04Z", "size": 625, "filled": false, "stroke": "#b4f01e", "strokeWidth": 2.5, "opacity": 1},
 "encoding": {
  "x": {"field": "i", "type": "quantitative", "scale": {"domain": [-0.375, 466.375], "nice": false, "zero": false}},
  "y": {"field": "p", "type": "quantitative", "scale": {"domain": [1.11728, 1.14744], "nice": false, "zero": false}}
 }},
{"data": {"values": [{"i": 454.3, "p": 1.11867}]},
 "mark": {"type": "point", "shape": "M-0.44,-1L0.44,-1L0.44,0.04L0.76,0.04L0,1L-0.76,0.04L-0.44,0.04Z", "size": 900, "filled": false, "stroke": "#b4f01e", "strokeWidth": 2.5, "opacity": 1},
 "encoding": {
  "x": {"field": "i", "type": "quantitative", "scale": {"domain": [-0.375, 466.375], "nice": false, "zero": false}},
  "y": {"field": "p", "type": "quantitative", "scale": {"domain": [1.11728, 1.14744], "nice": false, "zero": false}}
 }},
{"data": {"values": [{"i": 11.85, "p": 1.13500, "t": "момент, когда индикатор зафиксировал разворот"}]},
 "mark": {"type": "text", "align": "left", "baseline": "middle", "font": "Liberation Sans", "fontWeight": "bold", "fontSize": 22.2, "fill": "#e8191f", "stroke": "#e8191f", "strokeWidth": 0.7},
 "encoding": {
  "x": {"field": "i", "type": "quantitative", "scale": {"domain": [-0.375, 466.375], "nice": false, "zero": false}},
  "y": {"field": "p", "type": "quantitative", "scale": {"domain": [1.11728, 1.14744], "nice": false, "zero": false}},
  "text": {"field": "t"}
 }},
{"data": {"values": [{"i": 370.5, "p": 1.13120, "t": "линия \"уровень разворота\""}]},
 "mark": {"type": "text", "align": "left", "baseline": "middle", "font": "Liberation Sans", "fontWeight": "bold", "fontSize": 27, "fill": "#1e8fe6", "stroke": "#1e8fe6", "strokeWidth": 0.7},
 "encoding": {
  "x": {"field": "i", "type": "quantitative", "scale": {"domain": [-0.375, 466.375], "nice": false, "zero": false}},
  "y": {"field": "p", "type": "quantitative", "scale": {"domain": [1.11728, 1.14744], "nice": false, "zero": false}},
  "text": {"field": "t"}
 }},
{"data": {"values": [{"i": 383.0, "p": 1.11975, "t": "текстовая информация индикатора"}]},
 "mark": {"type": "text", "align": "left", "baseline": "middle", "font": "Liberation Sans", "fontWeight": "bold", "fontSize": 18.3, "fill": "#b4f01e", "stroke": "#b4f01e", "strokeWidth": 0.5},
 "encoding": {
  "x": {"field": "i", "type": "quantitative", "scale": {"domain": [-0.375, 466.375], "nice": false, "zero": false}},
  "y": {"field": "p", "type": "quantitative", "scale": {"domain": [1.11728, 1.14744], "nice": false, "zero": false}},
  "text": {"field": "t"}
 }},
{"data": {"values": [{"i": 394.0, "p": 1.11785, "t": "\"уровень разворота\" ZigZag_ADVS:"}, {"i": 450.1, "p": 1.11785, "t": "1.12803"}]},
 "mark": {"type": "text", "align": "left", "baseline": "middle", "font": "Liberation Sans", "fontSize": 12.5, "fill": "#ffffff"},
 "encoding": {
  "x": {"field": "i", "type": "quantitative", "scale": {"domain": [-0.375, 466.375], "nice": false, "zero": false}},
  "y": {"field": "p", "type": "quantitative", "scale": {"domain": [1.11728, 1.14744], "nice": false, "zero": false}},
  "text": {"field": "t"}
 }},
{"data": {"values": [{"t": "▼"}]},
 "mark": {"type": "text", "align": "center", "baseline": "top", "dx": 8, "dy": 6, "font": "DejaVu Sans", "fontSize": 7, "fill": "#ffffff"},
 "encoding": {
  "x": {"datum": -0.375, "type": "quantitative", "scale": {"domain": [-0.375, 466.375], "nice": false, "zero": false}},
  "y": {"datum": 1.14744, "type": "quantitative", "scale": {"domain": [1.11728, 1.14744], "nice": false, "zero": false}},
  "text": {"field": "t"}
 }},
{"data": {"values": [{"t": "EURUSDc,M15"}]},
 "mark": {"type": "text", "align": "left", "baseline": "top", "dx": 16, "dy": 4, "font": "Liberation Sans", "fontSize": 9.5, "fill": "#ffffff"},
 "encoding": {
  "x": {"datum": -0.375, "type": "quantitative", "scale": {"domain": [-0.375, 466.375], "nice": false, "zero": false}},
  "y": {"datum": 1.14744, "type": "quantitative", "scale": {"domain": [1.11728, 1.14744], "nice": false, "zero": false}},
  "text": {"field": "t"}
 }},
{"data": {"values": [{"p": 1.12803, "bg": "line"}, {"p": 1.12083, "bg": "bid"}]},
 "mark": {"type": "point", "shape": "M0.05,-0.15L1,-0.15L1,0.15L0.05,0.15Z", "size": 7056, "filled": true, "opacity": 1, "strokeWidth": 0},
 "encoding": {
  "x": {"datum": 466.375, "type": "quantitative", "scale": {"domain": [-0.375, 466.375], "nice": false, "zero": false}},
  "y": {"field": "p", "type": "quantitative", "scale": {"domain": [1.11728, 1.14744], "nice": false, "zero": false}},
  "fill": {"field": "bg", "type": "nominal", "scale": {"domain": ["line", "bid"], "range": ["#87cefa", "#ffffff"]}, "legend": null}
 }},
{"data": {"values": [{"p": 1.12803}, {"p": 1.12083}]},
 "mark": {"type": "text", "align": "left", "baseline": "middle", "dx": 7, "font": "Liberation Sans", "fontSize": 9.5, "fill": "#000000"},
 "encoding": {
  "x": {"datum": 466.375, "type": "quantitative", "scale": {"domain": [-0.375, 466.375], "nice": false, "zero": false}},
  "y": {"field": "p", "type": "quantitative", "scale": {"domain": [1.11728, 1.14744], "nice": false, "zero": false}},
  "text": {"field": "p", "format": ".5f"}
 }}
]
}
